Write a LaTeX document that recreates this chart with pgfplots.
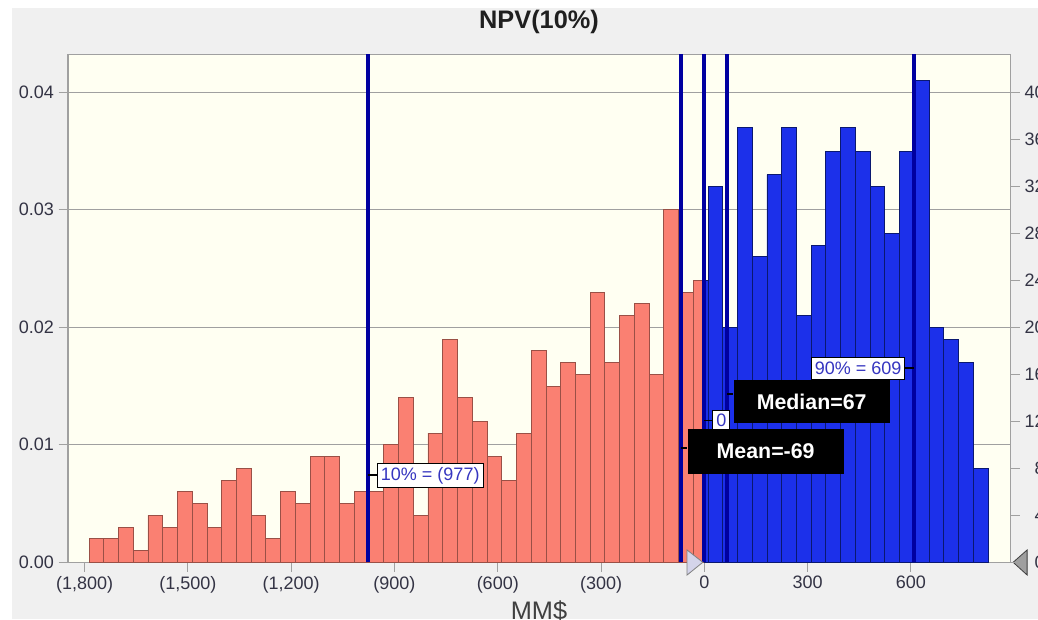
\documentclass[border=0pt]{standalone}
\usepackage{pgfplots}
\pgfplotsset{compat=1.18}
\usepackage{fontspec}
\setmainfont{Liberation Sans}
\definecolor{outerbg}{HTML}{F0F0F0}
\definecolor{plotbg}{HTML}{FFFFF2}
\definecolor{salmonbar}{HTML}{FA8072}
\definecolor{salmonedge}{HTML}{9A5046}
\definecolor{bluebar}{HTML}{1C30EA}
\definecolor{blueedge}{HTML}{0A1870}
\definecolor{statline}{HTML}{0000A0}
\definecolor{gridc}{HTML}{A0A0A0}
\definecolor{tickc}{HTML}{333344}
\definecolor{boxtext}{HTML}{3535C0}
\definecolor{lav}{HTML}{D4D4EA}
\begin{document}
\begin{tikzpicture}
\fill[white] (0,0) rectangle (778.5pt,464.25pt);
\fill[outerbg] (9pt,0) rectangle (778.5pt,458.25pt);
\begin{scope}
\clip (0,0) rectangle (778.5pt,464.25pt);
\begin{axis}[
  at={(51pt,42.525pt)}, anchor=south west,
  scale only axis, width=706.875pt, height=381pt,
  xmin=-1848, xmax=889, ymin=0, ymax=0.04323,
  axis background/.style={fill=plotbg},
  axis line style={draw=gridc, line width=0.9pt},
  ymajorgrids, major grid style={draw=gridc, line width=0.9pt},
  tick align=outside, tick pos=left,
  major tick length=7pt,
  every tick/.style={draw=gridc, line width=0.75pt},
  scaled y ticks=false,
  ytick={0,0.01,0.02,0.03,0.04},
  yticklabel style={/pgf/number format/fixed, /pgf/number format/fixed zerofill, /pgf/number format/precision=2},
  tick label style={font=\fontsize{13.5}{16}\selectfont, text=tickc},
  /pgf/number format/assume math mode=true,
  xtick={-1800,-1500,-1200,-900,-600,-300,0,300,600},
  xticklabels={(1,800),(1,500),(1,200),(900),(600),(300),0,300,600},
  clip=false,
]
\addplot[ybar interval, fill=salmonbar, draw=salmonedge, line width=0.6pt] coordinates {
(-1787.0,0.002) (-1744.2,0.002) (-1701.4,0.003) (-1658.6,0.001) (-1615.8,0.004)
(-1573.0,0.003) (-1530.2,0.006) (-1487.4,0.005) (-1444.6,0.003) (-1401.8,0.007)
(-1359.0,0.008) (-1316.2,0.004) (-1273.4,0.002) (-1230.6,0.006) (-1187.8,0.005)
(-1145.0,0.009) (-1102.2,0.009) (-1059.4,0.005) (-1016.6,0.006) (-973.8,0.006)
(-931.0,0.010) (-888.2,0.014) (-845.4,0.004) (-802.6,0.011) (-759.8,0.019)
(-717.0,0.014) (-674.2,0.012) (-631.4,0.009) (-588.6,0.007) (-545.8,0.011)
(-503.0,0.018) (-460.2,0.015) (-417.4,0.017) (-374.6,0.016) (-331.8,0.023)
(-289.0,0.017) (-246.2,0.021) (-203.4,0.022) (-160.6,0.016) (-117.8,0.030)
(-75.0,0.023) (-32.2,0.024) (0,0)};
\addplot[ybar interval, fill=bluebar, draw=blueedge, line width=0.7pt] coordinates {
(0,0.024) (10.6,0.032) (53.4,0.020) (96.2,0.037) (139.0,0.026) (181.8,0.033)
(224.6,0.037) (267.4,0.021) (310.2,0.027) (353.0,0.035) (395.8,0.037)
(438.6,0.035) (481.4,0.032) (524.2,0.028) (567.0,0.035) (609.8,0.041)
(652.6,0.020) (695.4,0.019) (738.2,0.017) (781.0,0.008) (823.8,0)};
\addplot[statline, line width=3pt] coordinates {(-977,0) (-977,0.04323)};
\addplot[statline, line width=3pt] coordinates {(-69,0) (-69,0.04323)};
\addplot[statline, line width=3pt] coordinates {(0,0) (0,0.04323)};
\addplot[statline, line width=3pt] coordinates {(67,0) (67,0.04323)};
\addplot[statline, line width=3pt] coordinates {(609,0) (609,0.04323)};
% connectors and labels
\draw[black, line width=1.1pt] (axis cs:-977,0.00743) -- (axis cs:-951.4,0.00743);
\node[anchor=north west, draw=black, fill=white, text=boxtext, font=\fontsize{13.5}{15}\selectfont, minimum width=79.5pt, minimum height=17.5pt, inner sep=0pt, line width=0.75pt] at (axis cs:-951.4,0.00843) {10\% = (977)};
\draw[black, line width=1.1pt] (axis cs:609,0.01654) -- (axis cs:580.8,0.01654);
\node[anchor=north west, draw=black, fill=white, text=boxtext, font=\fontsize{13.5}{15}\selectfont, minimum width=70.2pt, minimum height=17pt, inner sep=0pt, line width=0.75pt] at (axis cs:309.0,0.01750) {90\% = 609};
\draw[black, line width=1.1pt] (axis cs:0,0.01205) -- (axis cs:23.2,0.01205);
\node[anchor=north west, draw=black, fill=white, text=boxtext, font=\fontsize{13.5}{15}\selectfont, minimum width=12.75pt, minimum height=13.9pt, inner sep=0pt, line width=0.75pt] at (axis cs:23.2,0.01293) {0};
\draw[black, line width=1.1pt] (axis cs:67,0.01432) -- (axis cs:84.2,0.01432);
\node[anchor=north west, fill=black, text=white, font=\fontsize{16}{18}\selectfont\bfseries, minimum width=117pt, minimum height=32.25pt, inner sep=0pt] at (axis cs:84.2,0.01551) {Median=67};
\draw[black, line width=1.1pt] (axis cs:-69,0.00973) -- (axis cs:-49.4,0.00973);
\node[anchor=north west, fill=black, text=white, font=\fontsize{16}{18}\selectfont\bfseries, minimum width=117pt, minimum height=33.75pt, inner sep=0pt] at (axis cs:-49.4,0.01140) {Mean=-69};
% slider triangles
\filldraw[fill=lav, draw=gray, line width=0.6pt] (axis cs:-50.2,0.00105) -- (axis cs:-50.2,-0.00108) -- (axis cs:-4.6,0) -- cycle;
\filldraw[fill=gray!75, draw=darkgray, line width=0.6pt] (axis cs:937.2,0.00105) -- (axis cs:937.2,-0.00108) -- (axis cs:896.6,0) -- cycle;
\end{axis}
\begin{axis}[
  at={(51pt,42.525pt)}, anchor=south west,
  scale only axis, width=706.875pt, height=381pt,
  xmin=-1848, xmax=889, ymin=0, ymax=43.23,
  axis x line=none, axis y line*=right,
  axis line style={draw=gridc, line width=0.9pt},
  tick align=outside, major tick length=7pt,
  every tick/.style={draw=gridc, line width=0.75pt},
  ytick={0,4,8,12,16,20,24,28,32,36,40},
  yticklabel style={font=\fontsize{13.5}{16}\selectfont, text=tickc, text width=15pt, align=right},
  /pgf/number format/assume math mode=true,
]
\addplot[draw=none] coordinates {(0,0)};
\end{axis}
\end{scope}
\node[font=\fontsize{19}{22}\selectfont\bfseries, anchor=base, text={black!88}] at (404.25pt,442.5pt) {NPV(10\%)};
\begin{scope}
\clip (0,0) rectangle (778.5pt,464.25pt);
\node[font=\fontsize{19}{22}\selectfont, anchor=base, text={black!75}] at (404.25pt,-0.6pt) {MM\$};
\end{scope}
\pgfresetboundingbox
\useasboundingbox (0,0) rectangle (778.5pt,464.25pt);
\end{tikzpicture}
\end{document}
